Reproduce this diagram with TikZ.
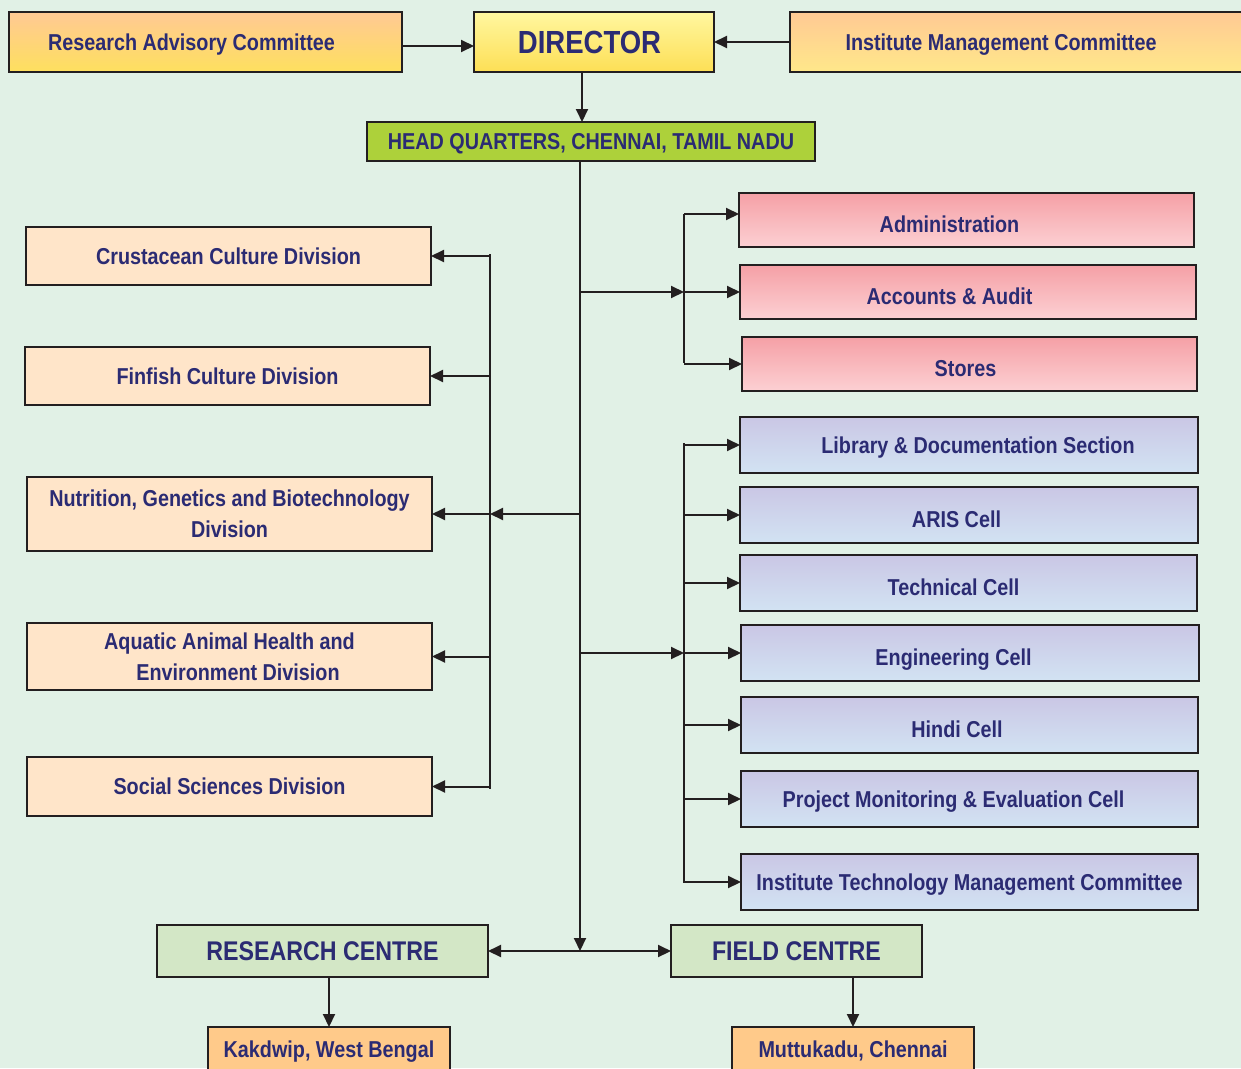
\documentclass[tikz,border=0pt]{standalone}
\usepackage{fontspec}
\setmainfont{Liberation Sans}[FakeStretch=0.86]
\usetikzlibrary{arrows.meta}

\definecolor{bgc}{HTML}{E1F1E6}
\definecolor{ink}{HTML}{2B2B73}
\definecolor{edge}{HTML}{231F20}
\definecolor{peachT}{HTML}{FFC994}
\definecolor{yellowB}{HTML}{FEE05E}
\definecolor{dirT}{HTML}{FFF7A0}
\definecolor{dirB}{HTML}{FDDF55}
\definecolor{imcB}{HTML}{FFE88A}
\definecolor{hqgreen}{HTML}{ADD13A}
\definecolor{division}{HTML}{FFE5C9}
\definecolor{pinkT}{HTML}{F5A0A6}
\definecolor{pinkB}{HTML}{FCD0D3}
\definecolor{blueT}{HTML}{CAC7E5}
\definecolor{blueB}{HTML}{D2E3F3}
\definecolor{centre}{HTML}{D3E7C6}
\definecolor{place}{HTML}{FFCA8A}

\begin{document}
\begin{tikzpicture}[x=1pt,y=-1pt,
  box/.style={draw=edge, line width=2pt, anchor=north west, outer sep=0pt,
    inner sep=0pt, text depth=0pt, text=ink,
    font=\bfseries\fontsize{23}{31}\selectfont},
  lowtext/.style={text height=24pt},
  topbox/.style={box, top color=peachT, bottom color=yellowB},
  dirbox/.style={box, top color=dirT, bottom color=dirB,
    font=\bfseries\fontsize{32}{36}\selectfont},
  imcbox/.style={box, top color=peachT, bottom color=imcB},
  hqbox/.style={box, fill=hqgreen},
  divbox/.style={box, fill=division, align=center, minimum width=405pt},
  adminbox/.style={box, lowtext, top color=pinkT, bottom color=pinkB, minimum height=54pt},
  cellbox/.style={box, top color=blueT, bottom color=blueB, minimum height=56pt},
  centrebox/.style={box, fill=centre, minimum height=52pt,
    font=\bfseries\fontsize{27}{31}\selectfont},
  placebox/.style={box, fill=place, minimum width=242pt, minimum height=44pt},
  link/.style={draw=edge, line width=2pt},
  arr/.style={link, -{Triangle[length=13pt,width=12pt]}},
  biarr/.style={link, {Triangle[length=13pt,width=12pt]}-{Triangle[length=13pt,width=12pt]}}
]
\useasboundingbox (0,0) rectangle (1241,1068);
\fill[bgc] (0,0) rectangle (1241,1068);

% top row
\node[topbox, minimum width=393pt, minimum height=60pt] (rac) at (9,12)
  {Research Advisory Committee\hspace*{28pt}};
\node[dirbox, minimum width=240pt, minimum height=60pt] (dir) at (474,12)
  {DIRECTOR\hspace*{9pt}};
\node[imcbox, minimum width=470pt, minimum height=60pt] (imc) at (790,12)
  {Institute Management Committee\hspace*{48pt}};
\node[hqbox, minimum width=448pt, minimum height=39pt] (hq) at (367,122)
  {HEAD QUARTERS, CHENNAI, TAMIL NADU};

% divisions
\node[divbox, minimum height=58pt] (crus) at (26,227) {Crustacean Culture Division};
\node[divbox, minimum height=58pt] (fin) at (25,347) {Finfish Culture Division};
\node[divbox, minimum height=74pt] (ngb) at (27,477)
  {Nutrition, Genetics and Biotechnology\\Division};
\node[divbox, minimum height=67pt] (aah) at (27,623)
  {Aquatic Animal Health and\\\hspace*{17pt}Environment Division};
\node[divbox, minimum height=59pt] (ss) at (27,757) {Social Sciences Division};

% administrative sections
\node[adminbox, minimum width=455pt] (adm) at (739,193) {Administration\hspace*{34pt}};
\node[adminbox, minimum width=456pt] (acc) at (740,265) {Accounts \& Audit\hspace*{37pt}};
\node[adminbox, minimum width=455pt] (sto) at (742,337) {Stores\hspace*{8pt}};

% cells
\node[cellbox, minimum width=458pt] (lib) at (740,417)
  {\hspace*{18pt}Library \& Documentation Section};
\node[cellbox, lowtext, minimum width=458pt] (aris) at (740,487) {ARIS Cell\hspace*{25pt}};
\node[cellbox, lowtext, minimum width=457pt] (tech) at (740,555) {Technical Cell\hspace*{30pt}};
\node[cellbox, lowtext, minimum width=458pt] (eng) at (741,625) {Engineering Cell\hspace*{33pt}};
\node[cellbox, lowtext, minimum width=457pt] (hindi) at (741,697) {Hindi Cell\hspace*{25pt}};
\node[cellbox, minimum width=457pt] (pme) at (741,771)
  {Project Monitoring \& Evaluation Cell\hspace*{32pt}};
\node[cellbox, minimum width=457pt] (itmc) at (741,854)
  {Institute Technology Management Committee};

% centres and locations
\node[centrebox, minimum width=331pt] (rc) at (157,925) {RESEARCH CENTRE};
\node[centrebox, minimum width=251pt] (fc) at (671,925) {FIELD CENTRE};
\node[placebox] (kak) at (208,1027) {Kakdwip, West Bengal};
\node[placebox] (mut) at (732,1027) {Muttukadu, Chennai};

% trunk and bus positions
\coordinate (tb) at (580,951);
\coordinate (lbus) at (490,0);
\coordinate (rbus) at (684,0);

% connectors at the top
\draw[arr] ([yshift=-4pt]rac.east) -- ([yshift=-4pt]dir.west);
\draw[arr] (imc.west) -- (dir.east);
\draw[arr] ([xshift=-12pt]dir.south) -- ([xshift=-9pt]hq.north);
\draw[arr] (hq.south -| tb) -- (tb);

% divisions bus
\draw[arr] (ngb.east -| tb) -- (ngb.east -| lbus);
\draw[link] ([yshift=2pt]crus.east -| lbus) -- ([yshift=-2pt]ss.east -| lbus);
\foreach \n in {crus,fin,ngb,aah,ss}
  \draw[arr] (\n.east -| lbus) -- (\n.east);

% administration bus
\draw[arr] (acc.west -| tb) -- (acc.west -| rbus);
\draw[link] ([yshift=6pt]adm.west -| rbus) -- ([yshift=1pt]sto.west -| rbus);
\draw[arr] ([yshift=6pt]adm.west -| rbus) -- ([yshift=6pt]adm.west);
\draw[arr] (acc.west -| rbus) -- (acc.west);
\draw[arr] (sto.west -| rbus) -- (sto.west);

% cells bus
\draw[arr] (eng.west -| tb) -- (eng.west -| rbus);
\draw[link] ([yshift=2pt]lib.west -| rbus) -- ([yshift=-1pt]itmc.west -| rbus);
\foreach \n in {lib,aris,tech,eng,hindi,pme,itmc}
  \draw[arr] (\n.west -| rbus) -- (\n.west);

% centres
\draw[biarr] (rc.east) -- (fc.west);
\draw[arr] (kak.north |- rc.south) -- (kak.north);
\draw[arr] (mut.north |- fc.south) -- (mut.north);
\end{tikzpicture}
\end{document}
